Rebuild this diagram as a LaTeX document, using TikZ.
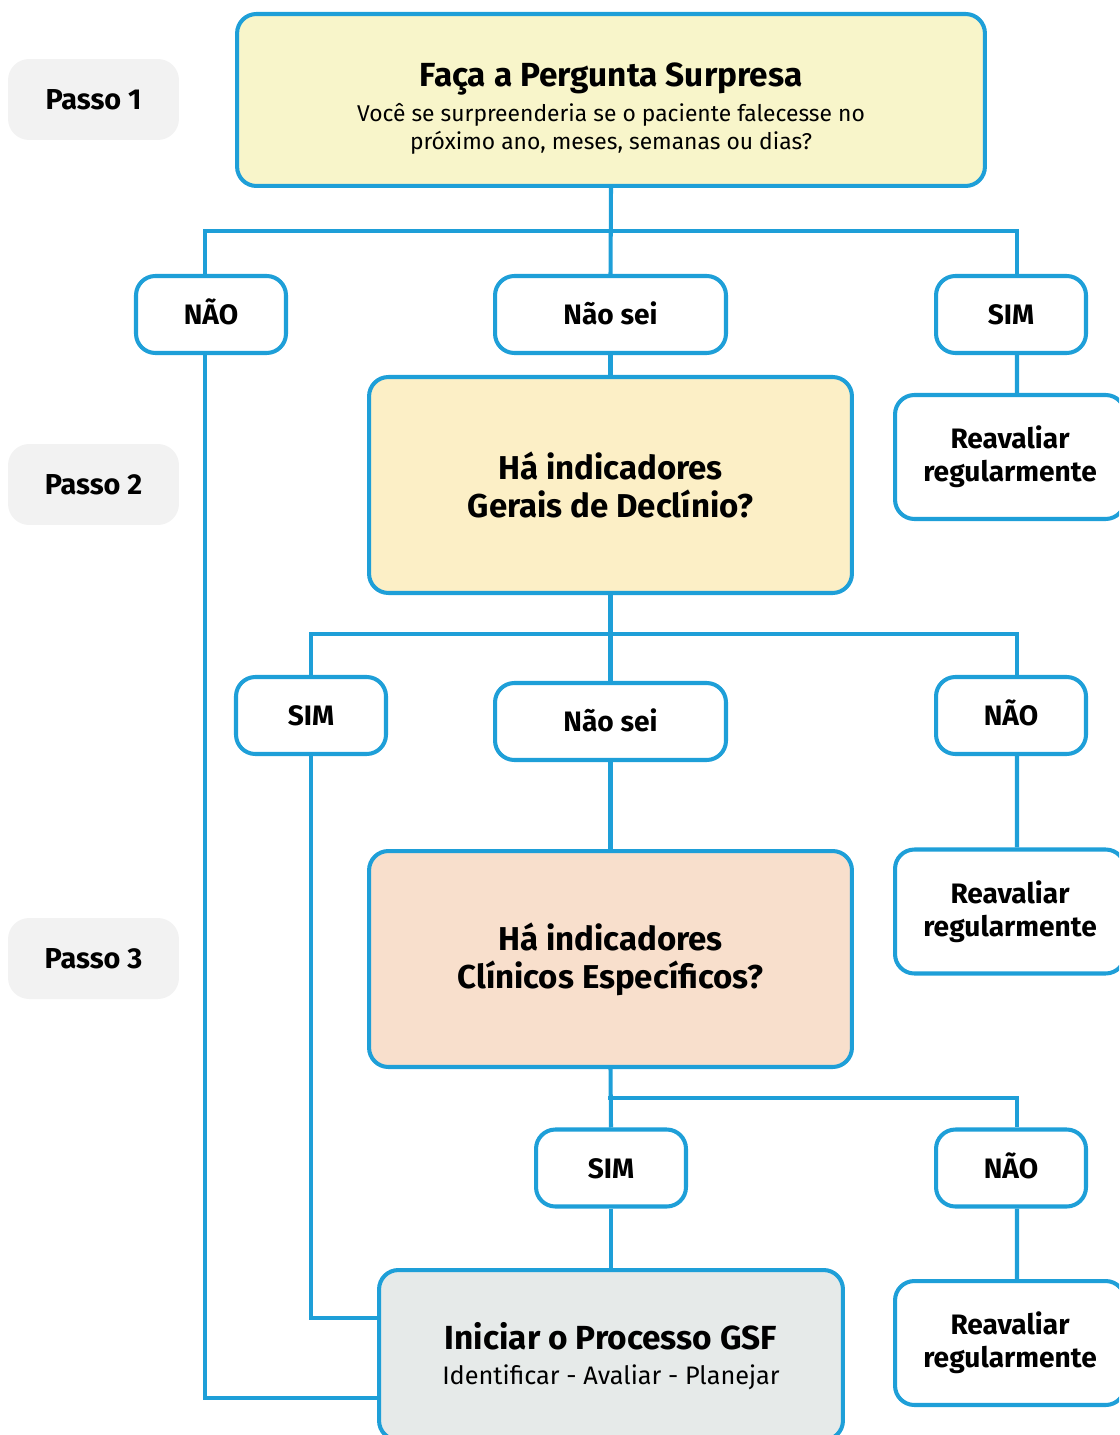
\documentclass[tikz,border=0pt]{standalone}
\usepackage{fontspec}
\setmainfont{Fira Sans}
\usetikzlibrary{positioning, calc}
\definecolor{azul}{HTML}{1E9FD8}
\definecolor{amarelo}{HTML}{F8F5CA}
\definecolor{creme}{HTML}{FCEFC6}
\definecolor{pessego}{HTML}{F8DFCC}
\definecolor{cinza}{HTML}{E6EAE9}
\definecolor{passocor}{HTML}{F2F2F2}
\tikzset{
    %Define style for boxes
    caixa/.style={
           rectangle,
           rounded corners=11pt,
           draw=azul, line width=2.3pt,
           align=center,
           inner sep=0pt},
    % caixas de resposta
    resp/.style={
           caixa, fill=white,
           minimum width=3cm,
           minimum height=1.54cm,
           text height=11.5pt, text depth=0pt,
           font=\fontsize{16}{18}\selectfont\bfseries},
    reav/.style={
           caixa, fill=white,
           minimum width=4.6cm,
           minimum height=2.48cm,
           font=\fontsize{16}{18.7}\selectfont\bfseries},
    grande/.style={
           caixa,
           minimum width=9.66cm,
           minimum height=4.32cm,
           font=\fontsize{18.8}{21.5}\selectfont\bfseries},
    passo/.style={
           rectangle,
           rounded corners=12pt,
           fill=passocor,
           minimum width=3.42cm,
           minimum height=1.62cm,
           font=\fontsize{16.4}{18}\selectfont\bfseries},
    % Define line style
    linha/.style={
           draw=azul,
           line width=2.3pt}
}

\begin{document}
\begin{tikzpicture}[x=0.02cm, y=-0.02cm]
	\useasboundingbox (0,0) rectangle (1119,1435);
	\clip (0,0) rectangle (1119,1435);
	%
	% passos
	%
	\node[passo] (passoA) at (93.5,99.5) {Passo 1};
	\node[passo] (passoB) at (93.5,484.5) {Passo 2};
	\node[passo] (passoC) at (93.5,958.5) {Passo 3};
	%
	% noeuds
	%
	\node[caixa, fill=amarelo, minimum width=14.96cm, minimum height=3.44cm] (pergunta) at (611,100) {};
	\node[font=\fontsize{19}{22}\selectfont\bfseries] (perguntaT) at (611,79) {Faça a Pergunta Surpresa};
	\node[font=\fontsize{13}{15.9}\selectfont, align=center] (perguntaS) at (611,129) {Você se surpreenderia se o paciente falecesse no\\próximo ano, meses, semanas ou dias?};
	\node[resp] (naoA) at (211,314.5) {NÃO};
	\node[resp, minimum width=4.62cm] (naoseiA) at (610.5,314.5) {Não sei};
	\node[resp] (simA) at (1011,314.5) {SIM};
	\node[reav] (reavA) at (1010,457) {Reavaliar\\regularmente};
	\node[grande, fill=creme] (gerais) at (610.5,485) {Há indicadores\\Gerais de Declínio?};
	\node[resp] (simB) at (311,715.5) {SIM};
	\node[resp, minimum width=4.62cm] (naoseiB) at (610.5,721.5) {Não sei};
	\node[resp] (naoB) at (1011,715.5) {NÃO};
	\node[reav] (reavB) at (1010,911.5) {Reavaliar\\regularmente};
	\node[grande, fill=pessego] (clinicos) at (610.5,959) {Há indicadores\\Clínicos Específicos?};
	\node[resp] (simC) at (611,1168) {SIM};
	\node[resp] (naoC) at (1011,1168) {NÃO};
	\node[reav] (reavC) at (1010,1343) {Reavaliar\\regularmente};
	\node[caixa, fill=cinza, minimum width=9.28cm, minimum height=3.4cm] (gsf) at (611,1355) {};
	\node[font=\fontsize{19}{22}\selectfont\bfseries] (gsfT) at (611,1336) {Iniciar o Processo GSF};
	\node[font=\fontsize{14.4}{17}\selectfont] (gsfS) at (611,1377) {Identificar - Avaliar - Planejar};
	%
	% Liens
	%
	\coordinate (barA) at (611,231);
	\coordinate (barB) at (611,634);
	\coordinate (barC) at (608,1098);
	\draw[linha] (pergunta.south) -- (naoseiA.north);
	\draw[linha] ([xshift=-0.12cm]naoA.north) |- (barA) -| ([xshift=0.12cm]simA.north);
	\draw[linha] (naoseiA.south) -- (gerais.north);
	\draw[linha] ([xshift=0.12cm]simA.south) -- ([xshift=0.14cm]reavA.north);
	\draw[linha] ([xshift=-0.12cm]naoA.south) |- ([yshift=-0.86cm]gsf.west);
	\draw[linha] (gerais.south) -- (naoseiB.north);
	\draw[linha] (simB.north) |- (barB) -| ([xshift=0.12cm]naoB.north);
	\draw[linha] ([xshift=0.12cm]naoB.south) -- ([xshift=0.14cm]reavB.north);
	\draw[linha] (naoseiB.south) -- (clinicos.north);
	\draw[linha] (simB.south) |- ([yshift=0.74cm]gsf.west);
	\draw[linha] (clinicos.south) -- (simC.north);
	\draw[linha] (barC) -| ([xshift=0.12cm]naoC.north);
	\draw[linha] ([xshift=0.12cm]naoC.south) -- ([xshift=0.14cm]reavC.north);
	\draw[linha] (simC.south) -- (gsf.north);
\end{tikzpicture}
\end{document}
